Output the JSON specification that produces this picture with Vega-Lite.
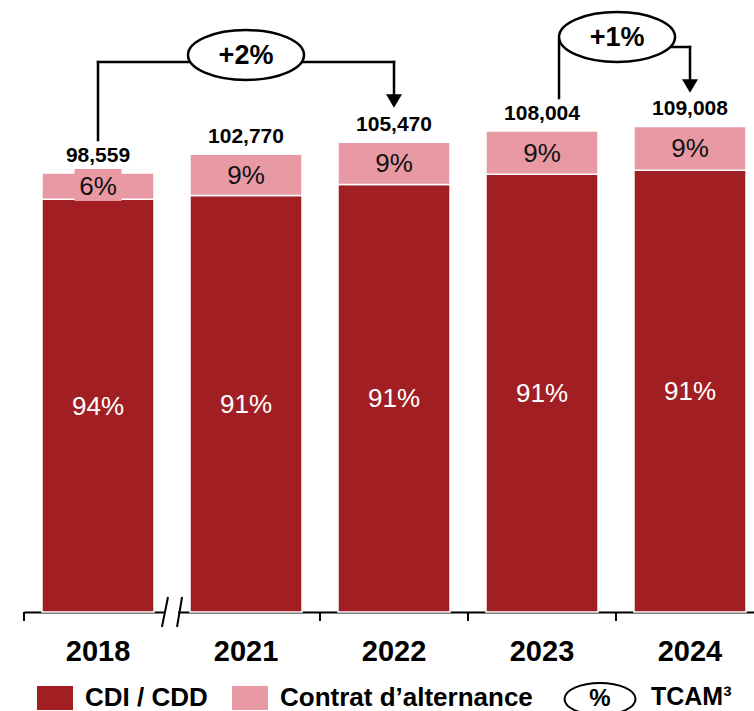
{
  "$schema": "https://vega.github.io/schema/vega-lite/v6.json",
  "width": 730,
  "height": 612,
  "autosize": {"type": "none"},
  "padding": {"left": 24, "top": 0, "right": 0, "bottom": 99},
  "background": "white",
  "config": {
    "view": {"stroke": null},
    "font": "Liberation Sans",
    "text": {"font": "Liberation Sans"}
  },
  "datasets": {
    "bars": [
      {"year": "2018", "type": "CDI / CDD", "value": 92645, "label": "94%"},
      {"year": "2018", "type": "Contrat d’alternance", "value": 5914, "label": "6%"},
      {"year": "2021", "type": "CDI / CDD", "value": 93521, "label": "91%"},
      {"year": "2021", "type": "Contrat d’alternance", "value": 9249, "label": "9%"},
      {"year": "2022", "type": "CDI / CDD", "value": 95978, "label": "91%"},
      {"year": "2022", "type": "Contrat d’alternance", "value": 9492, "label": "9%"},
      {"year": "2023", "type": "CDI / CDD", "value": 98284, "label": "91%"},
      {"year": "2023", "type": "Contrat d’alternance", "value": 9720, "label": "9%"},
      {"year": "2024", "type": "CDI / CDD", "value": 99197, "label": "91%"},
      {"year": "2024", "type": "Contrat d’alternance", "value": 9811, "label": "9%"}
    ],
    "labelbox": [
      {"year": "2018", "bottom": 92270, "top": 99454}
    ],
    "brackets": [
      {"u": 0.5, "u2": 0.5, "v": 105964, "v2": 123475},
      {"u": 0.5, "u2": 1.15, "v": 123475, "v2": 123475},
      {"u": 1.85, "u2": 2.5, "v": 123475, "v2": 123475},
      {"u": 2.5, "u2": 2.5, "v": 123475, "v2": 114720},
      {"u": 3.615, "u2": 3.615, "v": 128414, "v2": 115393},
      {"u": 4.3, "u2": 4.5, "v": 126843, "v2": 126843},
      {"u": 4.5, "u2": 4.5, "v": 126843, "v2": 118087}
    ],
    "breaks": [
      {"u": 0.973, "u2": 0.932, "v": 3368, "v2": -3368},
      {"u": 1.068, "u2": 1.034, "v": 3368, "v2": -3368}
    ],
    "ticks": [{"u": 0}, {"u": 2}, {"u": 3}, {"u": 4}],
    "arrows": [
      {"u": 2.5, "v": 114720},
      {"u": 4.5, "v": 118087}
    ],
    "cagr": [
      {"u": 1.5, "v": 125050, "label": "+2%"},
      {"u": 4.007, "v": 129088, "label": "+1%"}
    ],
    "keyellipse": [
      {"u": 3.892, "v": -19532, "label": "%"}
    ],
    "keytext": [
      {"u": 4.236, "v": -19083, "label": "TCAM³"}
    ]
  },
  "layer": [
    {
      "layer": [
        {
          "data": {"name": "bars"},
          "mark": {"type": "bar", "stroke": "white", "strokeWidth": 1.5},
          "encoding": {
            "x": {
              "field": "year", "type": "nominal", "sort": null,
              "scale": {"domain": ["2018", "2021", "2022", "2023", "2024"], "range": [0, 740], "paddingInner": 0.243, "paddingOuter": 0.1216},
              "axis": {"title": null, "domain": true, "domainColor": "black", "domainWidth": 2, "ticks": false, "tickSize": 0, "labelFontSize": 29, "labelFontWeight": "bold", "labelColor": "black", "labelFont": "Liberation Sans", "labelPadding": 25, "labelAngle": 0, "zindex": 0}
            },
            "y": {
              "field": "value", "type": "quantitative", "stack": "zero",
              "scale": {"domain": [0, 137400], "nice": false, "zero": true},
              "axis": null
            },
            "color": {
              "field": "type", "type": "nominal",
              "scale": {"domain": ["CDI / CDD", "Contrat d’alternance"], "range": ["#A11F22", "#E999A3"]},
              "legend": {
                "orient": "none", "legendX": 18, "legendY": 685, "direction": "horizontal", "title": null,
                "symbolType": "M-1.5,-1H1.5V1H-1.5Z", "symbolSize": 576, "symbolStrokeWidth": 0, "symbolOpacity": 1,
                "labelFontSize": 26, "labelFontWeight": "bold", "labelColor": "black", "labelFont": "Liberation Sans",
                "labelOffset": 17, "labelLimit": 400, "columnPadding": 24, "padding": 0
              }
            },
            "order": {"field": "type", "sort": "ascending"}
          }
        },
        {
          "data": {"name": "labelbox"},
          "mark": {"type": "bar", "size": 47, "color": "#E999A3"},
          "encoding": {
            "x": {"field": "year", "type": "nominal", "sort": null},
            "y": {"field": "bottom", "type": "quantitative"},
            "y2": {"field": "top"}
          }
        },
        {
          "data": {"name": "bars"},
          "transform": [
            {"stack": "value", "groupby": ["year"], "sort": [{"field": "type", "order": "ascending"}], "as": ["s", "e"]},
            {"fold": ["s", "e"], "as": ["k", "pos"]}
          ],
          "mark": {"type": "text", "fontSize": 26, "baseline": "middle", "dy": 1},
          "encoding": {
            "x": {"field": "year", "type": "nominal", "sort": null},
            "y": {"aggregate": "mean", "field": "pos", "type": "quantitative"},
            "text": {"field": "label", "type": "nominal"},
            "detail": {"field": "type", "type": "nominal"},
            "color": {"condition": {"test": "datum.type === 'CDI / CDD'", "value": "white"}, "value": "#111111"}
          }
        },
        {
          "data": {"name": "bars"},
          "mark": {"type": "text", "fontSize": 21, "fontWeight": "bold", "baseline": "alphabetic", "dy": -11, "color": "black"},
          "encoding": {
            "x": {"field": "year", "type": "nominal", "sort": null},
            "y": {"aggregate": "sum", "field": "value", "type": "quantitative"},
            "text": {"aggregate": "sum", "field": "value", "type": "quantitative", "format": ",.0f"}
          }
        }
      ]
    },
    {
      "layer": [
        {
          "data": {"name": "brackets"},
          "mark": {"type": "rule", "strokeWidth": 2.5, "color": "black", "strokeCap": "square"},
          "encoding": {
            "x": {"field": "u", "type": "quantitative", "scale": {"domain": [0, 5], "range": [0, 740], "nice": false, "zero": false}, "axis": null},
            "x2": {"field": "u2"},
            "y": {"field": "v", "type": "quantitative"},
            "y2": {"field": "v2"}
          }
        },
        {
          "data": {"values": [{}]},
          "mark": {"type": "rule", "strokeWidth": 5, "color": "white"},
          "encoding": {
            "x": {"datum": 0.953, "type": "quantitative"},
            "x2": {"datum": 1.041},
            "y": {"datum": -100, "type": "quantitative"}
          }
        },
        {
          "data": {"name": "ticks"},
          "mark": {"type": "rule", "strokeWidth": 2, "color": "black"},
          "encoding": {
            "x": {"field": "u", "type": "quantitative"},
            "y": {"datum": 0, "type": "quantitative"},
            "y2": {"datum": -2020}
          }
        },
        {
          "data": {"name": "breaks"},
          "mark": {"type": "rule", "strokeWidth": 2, "color": "black"},
          "encoding": {
            "x": {"field": "u", "type": "quantitative"},
            "x2": {"field": "u2"},
            "y": {"field": "v", "type": "quantitative"},
            "y2": {"field": "v2"}
          }
        },
        {
          "data": {"name": "arrows"},
          "mark": {"type": "point", "shape": "M-1,-0.85L1,-0.85L0,0.85Z", "size": 256, "filled": true, "color": "black", "opacity": 1},
          "encoding": {
            "x": {"field": "u", "type": "quantitative"},
            "y": {"field": "v", "type": "quantitative"}
          }
        },
        {
          "data": {"name": "cagr"},
          "mark": {"type": "point", "shape": "M-1,0A1,0.43,0,1,0,1,0A1,0.43,0,1,0,-1,0Z", "size": 13456, "filled": true, "fill": "white", "stroke": "black", "strokeWidth": 2.5, "opacity": 1, "fillOpacity": 1, "strokeOpacity": 1},
          "encoding": {
            "x": {"field": "u", "type": "quantitative"},
            "y": {"field": "v", "type": "quantitative"}
          }
        },
        {
          "data": {"name": "cagr"},
          "mark": {"type": "text", "fontSize": 27, "fontWeight": "bold", "color": "black", "baseline": "middle", "dy": 1},
          "encoding": {
            "x": {"field": "u", "type": "quantitative"},
            "y": {"field": "v", "type": "quantitative"},
            "text": {"field": "label", "type": "nominal"}
          }
        },
        {
          "data": {"name": "keyellipse"},
          "mark": {"type": "point", "shape": "M-1,0A1,0.45,0,1,0,1,0A1,0.45,0,1,0,-1,0Z", "size": 5041, "filled": true, "fill": "white", "stroke": "black", "strokeWidth": 2, "opacity": 1, "fillOpacity": 1, "strokeOpacity": 1},
          "encoding": {
            "x": {"field": "u", "type": "quantitative"},
            "y": {"field": "v", "type": "quantitative"}
          }
        },
        {
          "data": {"name": "keyellipse"},
          "mark": {"type": "text", "fontSize": 24, "fontWeight": "bold", "color": "black", "baseline": "middle"},
          "encoding": {
            "x": {"field": "u", "type": "quantitative"},
            "y": {"field": "v", "type": "quantitative"},
            "text": {"field": "label", "type": "nominal"}
          }
        },
        {
          "data": {"name": "keytext"},
          "mark": {"type": "text", "fontSize": 25, "fontWeight": "bold", "color": "black", "baseline": "middle", "align": "left"},
          "encoding": {
            "x": {"field": "u", "type": "quantitative"},
            "y": {"field": "v", "type": "quantitative"},
            "text": {"field": "label", "type": "nominal"}
          }
        }
      ]
    }
  ],
  "resolve": {"scale": {"x": "independent"}}
}
